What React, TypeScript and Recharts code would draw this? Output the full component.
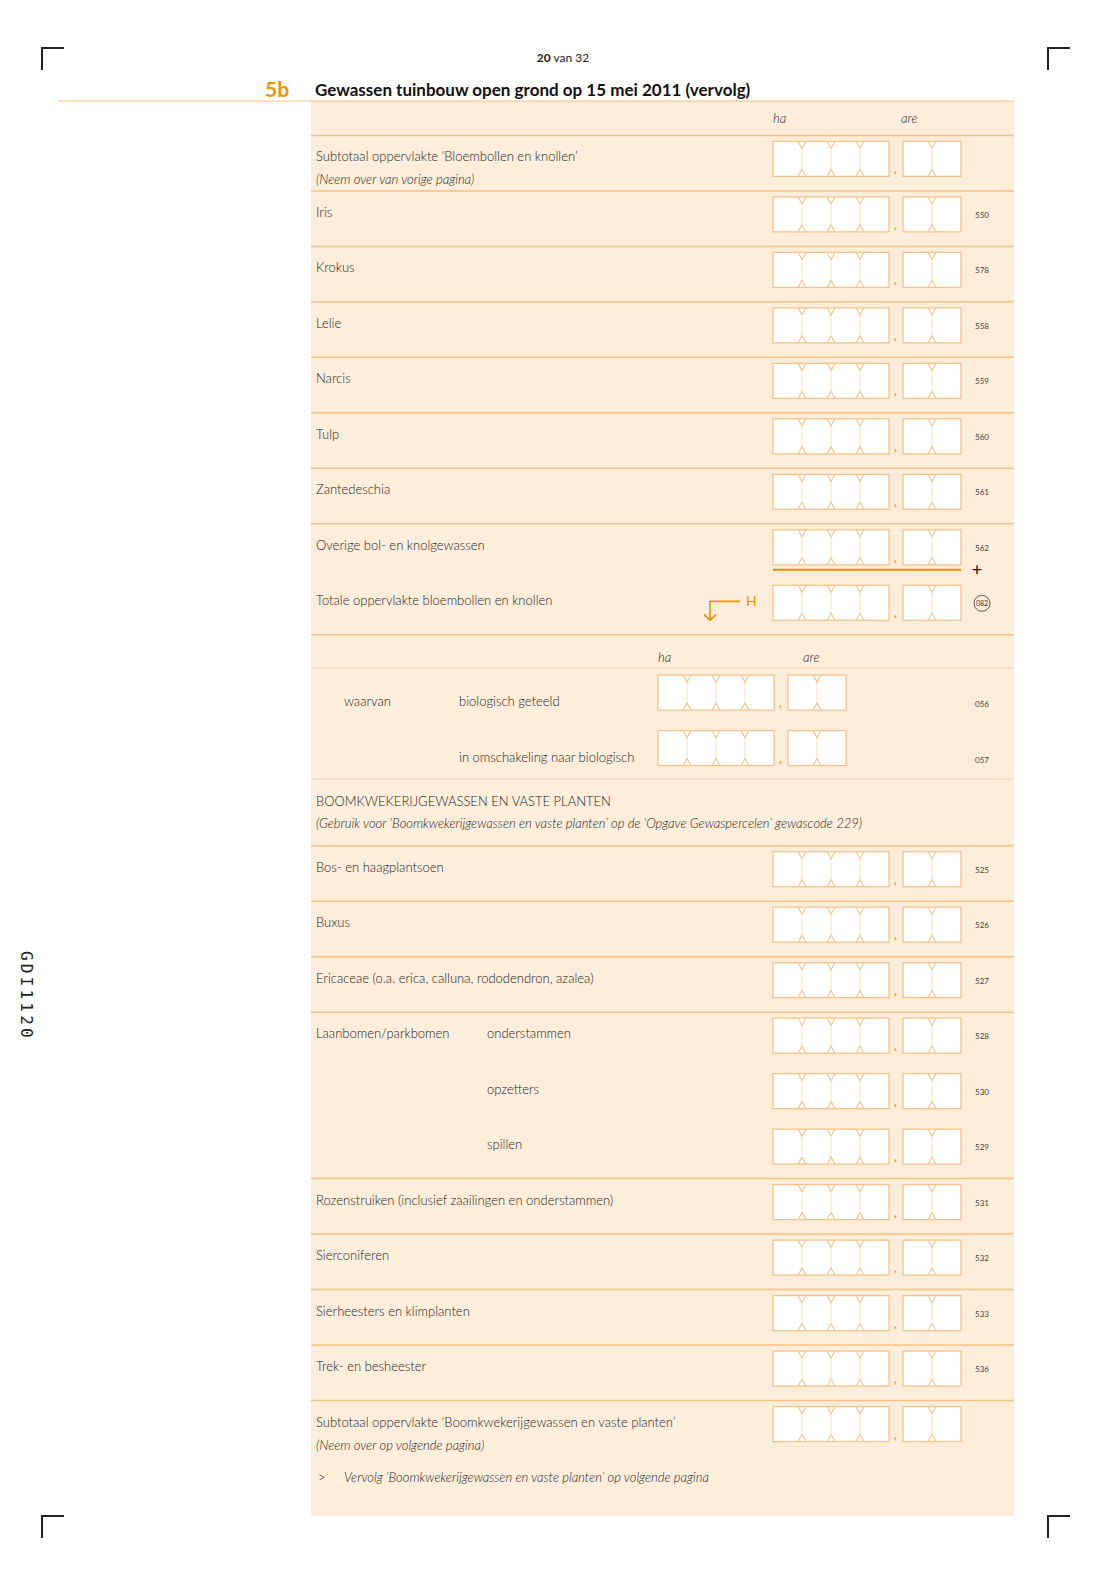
import React from 'react';
import { ScatterChart, XAxis, YAxis, Scatter, ReferenceArea, ReferenceLine } from 'recharts';

// page furniture
const pageNo = ['20', ' van 32'];
const sectionNo = '5b';
const sectionTitle = 'Gewassen tuinbouw open grond op 15 mei 2011 (vervolg)';
const formCode = 'GDI1120';
const unitLabels = ['ha', 'are'];

// bulbs block
const carryIn = ['Subtotaal oppervlakte ‘Bloembollen en knollen’', '(Neem over van vorige pagina)'];
const bulbCrops = ['Iris', 'Krokus', 'Lelie', 'Narcis', 'Tulp', 'Zantedeschia', 'Overige bol- en knolgewassen'];
const bulbCodes = ['550', '578', '558', '559', '560', '561', '562'];
const bulbTotal = ['Totale oppervlakte bloembollen en knollen', '082'];

// organic block
const organicLead = 'waarvan';
const organicCrops = ['biologisch geteeld', 'in omschakeling naar biologisch'];
const organicCodes = ['056', '057'];

// nursery block
const treeHeading = [
  'BOOMKWEKERIJGEWASSEN EN VASTE PLANTEN',
  '(Gebruik voor ‘Boomkwekerijgewassen en vaste planten’ op de ‘Opgave Gewaspercelen’ gewascode 229)',
];
const avenueGroup = 'Laanbomen/parkbomen';
const treeCrops = [
  'Bos- en haagplantsoen',
  'Buxus',
  'Ericaceae (o.a. erica, calluna, rododendron, azalea)',
  'onderstammen',
  'opzetters',
  'spillen',
  'Rozenstruiken (inclusief zaailingen en onderstammen)',
  'Sierconiferen',
  'Sierheesters en klimplanten',
  'Trek- en besheester',
];
const treeCodes = ['525', '526', '527', '528', '530', '529', '531', '532', '533', '536'];
const carryOut = ['Subtotaal oppervlakte ‘Boomkwekerijgewassen en vaste planten’', '(Neem over op volgende pagina)'];
const footNote = ['>', 'Vervolg ‘Boomkwekerijgewassen en vaste planten’ op volgende pagina'];

const ORANGE = '#f39200';
const RULE = '#f8c282';
const RULE_LIGHT = '#fad9b1';
const BOX = '#f6c48a';
const BG = '#fdeddb';
const INK = '#1e1e1e';
const FONT = 'Lato, "Open Sans", sans-serif';

// rows laid out in row units (one field row = 1)
type Row = {
  x: number;
  y: number;
  kind: string;
  label?: string;
  note?: string;
  code?: string;
  group?: string;
  rule?: 'strong' | 'light';
};

const rows: Row[] = [];
let top = 0;
rows.push({ x: 0, y: top, kind: 'units' });
top += 0.62;
rows.push({ x: 0, y: top, kind: 'subtotal', label: carryIn[0], note: carryIn[1], rule: 'strong' });
top += 1;
bulbCrops.forEach((c, i) => {
  rows.push({ x: 0, y: top, kind: i === bulbCrops.length - 1 ? 'last' : 'field', label: c, code: bulbCodes[i], rule: 'strong' });
  top += 1;
});
rows.push({ x: 0, y: top, kind: 'total', label: bulbTotal[0], code: bulbTotal[1] });
top += 1;
rows.push({ x: 0, y: top, kind: 'units2', rule: 'strong' });
top += 0.6;
organicCrops.forEach((c, i) => {
  rows.push({ x: 0, y: top, kind: 'organic', label: c, code: organicCodes[i], group: i === 0 ? organicLead : undefined, rule: i === 0 ? 'light' : undefined });
  top += 1;
});
rows.push({ x: 0, y: top, kind: 'heading', label: treeHeading[0], note: treeHeading[1], rule: 'light' });
top += 1.2;
treeCrops.forEach((c, i) => {
  const sub = i >= 3 && i <= 5;
  rows.push({
    x: 0,
    y: top,
    kind: sub ? 'sub' : 'field',
    label: c,
    code: treeCodes[i],
    group: i === 3 ? avenueGroup : undefined,
    rule: i === 4 || i === 5 ? undefined : 'strong',
  });
  top += 1;
});
rows.push({ x: 0, y: top, kind: 'subtotal', label: carryOut[0], note: carryOut[1], rule: 'strong' });
top += 1;
rows.push({ x: 0, y: top, kind: 'foot', label: footNote[1], note: footNote[0] });
top += 1.08;
const formDepth = top;

const Boxes = ({ x, y }: { x: number; y: number }) => {
  const bw = 29;
  const h = 35;
  const groups = [
    { x0: x, n: 4 },
    { x0: x + 130, n: 2 },
  ];
  return (
    <g>
      {groups.map((g, gi) => (
        <g key={gi}>
          <rect x={g.x0} y={y} width={bw * g.n} height={h} fill="#fff" stroke={BOX} strokeWidth={1.3} />
          {Array.from({ length: g.n - 1 }).map((_, k) => {
            const xd = g.x0 + bw * (k + 1);
            return (
              <g key={k} fill="none">
                <line x1={xd} y1={y + 7} x2={xd} y2={y + h - 7} stroke="#fbe2c4" strokeWidth={1} />
                <path d={`M${xd - 4},${y} L${xd},${y + 7} L${xd + 4},${y}`} stroke={BOX} strokeWidth={1.1} />
                <path d={`M${xd - 4},${y + h} L${xd},${y + h - 7} L${xd + 4},${y + h}`} stroke={BOX} strokeWidth={1.1} />
              </g>
            );
          })}
        </g>
      ))}
      <text x={x + 121} y={y + 32} fill={ORANGE} fontSize={12} fontFamily={FONT} fontWeight="bold">
        ,
      </text>
    </g>
  );
};

const Code = ({ x, y, v }: { x: number; y: number; v: string }) => (
  <text x={x} y={y} fill="#444" fontSize={8} fontFamily={FONT}>
    {v}
  </text>
);

const RowShape = (props: any) => {
  const { cx, cy, payload } = props;
  const L = cx;
  const T = cy;
  const p: Row = payload;
  const label = (x: number, y: number, s: string, italic = false) => (
    <text x={x} y={y} fill={INK} fontSize={13} fontWeight={300} fontStyle={italic ? 'italic' : 'normal'} fontFamily={FONT}>
      {s}
    </text>
  );
  switch (p.kind) {
    case 'units':
      return (
        <g>
          {label(L + 462, T + 22, unitLabels[0], true)}
          {label(L + 590, T + 22, unitLabels[1], true)}
        </g>
      );
    case 'units2':
      return (
        <g>
          {label(L + 347, T + 27, unitLabels[0], true)}
          {label(L + 492, T + 27, unitLabels[1], true)}
        </g>
      );
    case 'subtotal':
      return (
        <g>
          {label(L + 5, T + 26, p.label!)}
          {label(L + 5, T + 49, p.note!, true)}
          <Boxes x={L + 462} y={T + 6} />
        </g>
      );
    case 'heading':
      return (
        <g>
          {label(L + 5, T + 27, p.label!)}
          {label(L + 5, T + 49, p.note!, true)}
        </g>
      );
    case 'organic':
      return (
        <g>
          {p.group && label(L + 33, T + 38, p.group)}
          {label(L + 148, T + 38, p.label!)}
          <Boxes x={L + 347} y={T + 7} />
          <Code x={L + 664} y={T + 39} v={p.code!} />
        </g>
      );
    case 'sub':
      return (
        <g>
          {p.group && label(L + 5, T + 26, p.group)}
          {label(L + 176, T + 26, p.label!)}
          <Boxes x={L + 462} y={T + 6} />
          <Code x={L + 664} y={T + 27} v={p.code!} />
        </g>
      );
    case 'last':
      return (
        <g>
          {label(L + 5, T + 26, p.label!)}
          <Boxes x={L + 462} y={T + 6} />
          <Code x={L + 664} y={T + 27} v={p.code!} />
          <line x1={L + 462} x2={L + 650} y1={T + 46} y2={T + 46} stroke="#ee8a00" strokeWidth={2} />
          <text x={L + 666} y={T + 52} fontSize={18} fontFamily={FONT} fill="#111" textAnchor="middle">
            +
          </text>
        </g>
      );
    case 'total':
      return (
        <g>
          {label(L + 5, T + 26, p.label!)}
          <path
            d={`M${L + 429},${T + 22} L${L + 399},${T + 22} L${L + 399},${T + 41} M${L + 393},${T + 35} L${L + 399},${T + 41} L${L + 405},${T + 35}`}
            fill="none"
            stroke={ORANGE}
            strokeWidth={1.6}
          />
          <text x={L + 435} y={T + 27} fill={ORANGE} fontSize={14} fontFamily={FONT}>
            H
          </text>
          <Boxes x={L + 462} y={T + 6} />
          <circle cx={L + 671} cy={T + 24} r={8} fill="none" stroke="#333" strokeWidth={0.8} />
          <text x={L + 671} y={T + 27} fill="#333" fontSize={7} fontFamily={FONT} textAnchor="middle">
            {p.code}
          </text>
        </g>
      );
    case 'foot':
      return (
        <g>
          {label(L + 7, T + 26, p.note!)}
          {label(L + 33, T + 26, p.label!, true)}
        </g>
      );
    default:
      return (
        <g>
          {label(L + 5, T + 26, p.label!)}
          <Boxes x={L + 462} y={T + 6} />
          <Code x={L + 664} y={T + 27} v={p.code!} />
        </g>
      );
  }
};

const Furniture = () => {
  const corners = [
    [42, 48],
    [1048, 48],
    [42, 1516],
    [1048, 1516],
  ];
  return (
    <svg width={1099} height={1570} style={{ position: 'absolute', left: 0, top: 0, pointerEvents: 'none' }}>
      {corners.map(([x, y], i) => (
        <path key={i} d={`M${x},${y + 22} L${x},${y} L${x + 22},${y}`} fill="none" stroke="#222" strokeWidth={2} />
      ))}
      <text x={563} y={62} textAnchor="middle" fontSize={12} fontFamily={FONT} fill="#222">
        <tspan fontWeight="bold">{pageNo[0]}</tspan>
        <tspan>{pageNo[1]}</tspan>
      </text>
      <text x={265} y={97} fontSize={21} fontWeight="bold" fontFamily={FONT} fill={ORANGE}>
        {sectionNo}
      </text>
      <text x={315} y={96} fontSize={17} fontWeight="bold" fontFamily={FONT} fill="#111">
        {sectionTitle}
      </text>
      <line x1={58} x2={1014} y1={101} y2={101} stroke={RULE} strokeWidth={1.2} />
      <text
        transform="translate(21,951) rotate(90)"
        fontSize={16}
        fontFamily='"DejaVu Sans Mono", monospace'
        letterSpacing={3.2}
        fill="#222"
      >
        {formCode}
      </text>
    </svg>
  );
};

export default function App() {
  return (
    <div style={{ position: 'absolute', left: 0, top: 0, width: 1099, height: 1570, background: '#fff' }}>
      <ScatterChart width={1099} height={1570} margin={{ top: 101, right: 85, bottom: 54, left: 311 }}>
        <XAxis type="number" dataKey="x" domain={[0, 703]} hide />
        <YAxis type="number" dataKey="y" domain={[0, formDepth]} reversed hide />
        <ReferenceArea x1={0} x2={703} y1={0} y2={formDepth} fill={BG} fillOpacity={1} stroke="none" />
        {rows
          .filter((r) => r.rule)
          .map((r, i) => (
            <ReferenceLine
              key={i}
              y={r.y}
              stroke={r.rule === 'strong' ? RULE : RULE_LIGHT}
              strokeWidth={r.rule === 'strong' ? 1.5 : 1.2}
            />
          ))}
        <Scatter data={rows} shape={RowShape} isAnimationActive={false} />
      </ScatterChart>
      <Furniture />
    </div>
  );
}
